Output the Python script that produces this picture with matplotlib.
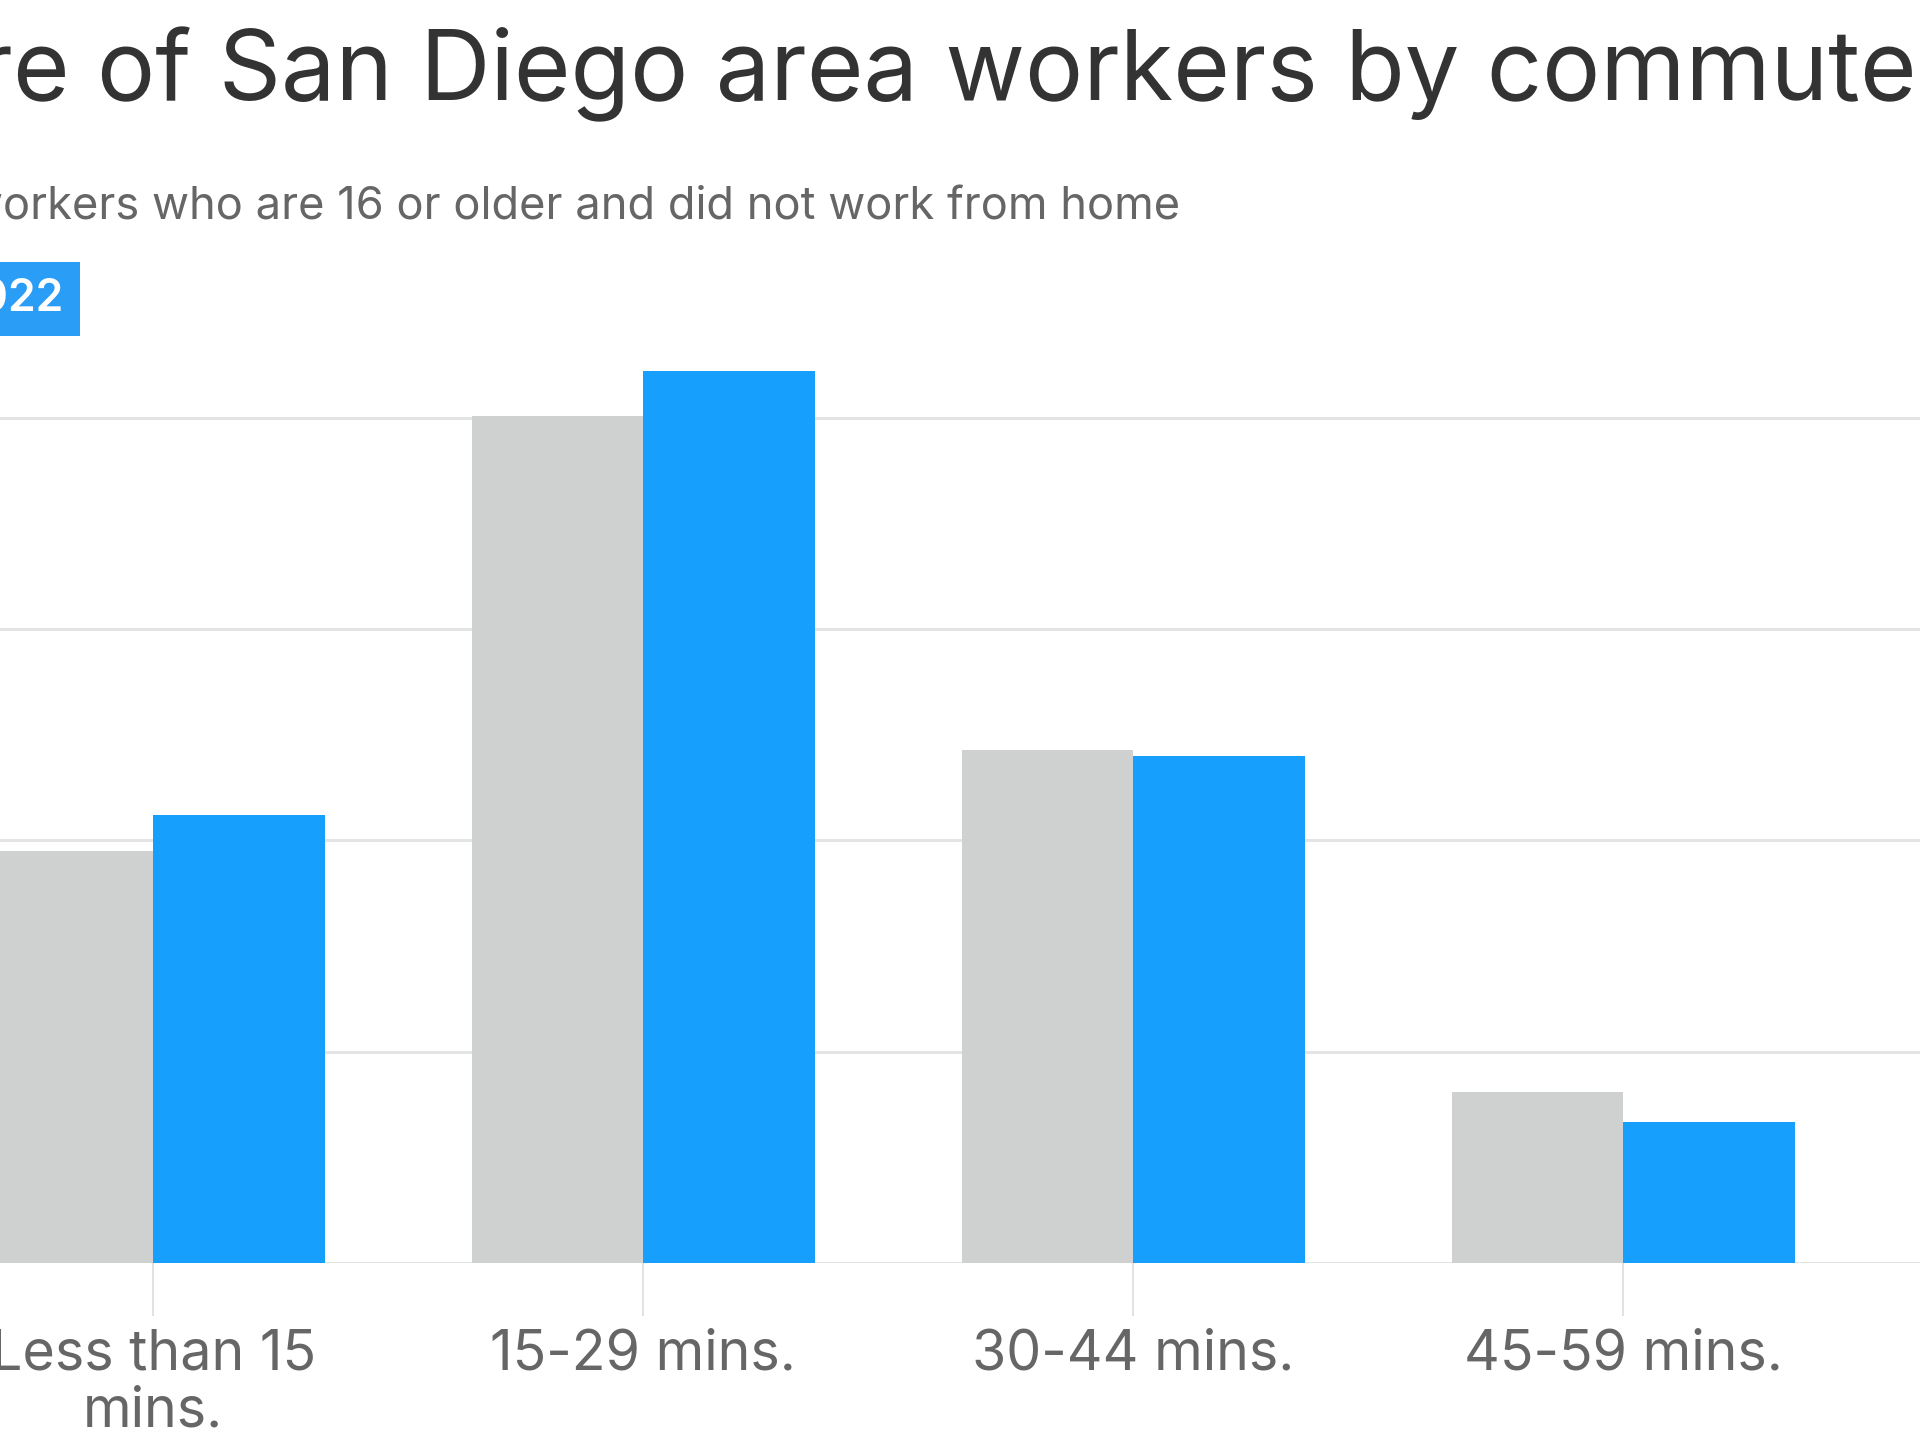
import matplotlib
matplotlib.use("Agg")
import matplotlib.pyplot as plt
import numpy as np

# ---- data ----
categories = ["Less than 15\nmins.", "15-29 mins.", "30-44 mins.", "45-59 mins."]
values_earlier = [19.5, 40.1, 24.3, 8.1]   # gray series (earlier year)
values_2022 = [21.2, 42.2, 24.0, 6.7]      # blue series
legend_label = "2022"
title_text = "Share of San Diego area workers by commute time"
subtitle_text = "workers who are 16 or older and did not work from home"

FONT = ["Inter", "DejaVu Sans"]
GRAY_BAR = "#CFD1D0"
BLUE = "#169FFD"
GRID = "#E4E4E4"
TEXT_DARK = "#333333"
TEXT_MID = "#666666"

W, H, DPI = 1920, 1440, 100
fig = plt.figure(figsize=(W / DPI, H / DPI), dpi=DPI)
fig.patch.set_facecolor("white")

# axes: baseline at y=1263 px, 21.14 px per unit; category spacing 490 px, first centre at 153 px
base_px = 1263.3
unit_px = 21.14
ymax = 45
top_px = base_px - ymax * unit_px
ax = fig.add_axes([0, (H - base_px) / H, 1, (base_px - top_px) / H])
x0_px = 153.3
step_px = 490.0
ax.set_xlim(-x0_px / step_px, (W - x0_px) / step_px)
ax.set_ylim(0, ymax)

x = np.arange(len(categories))
bw = 0.35
ax.bar(x - bw / 2, values_earlier, width=bw, color=GRAY_BAR, zorder=3, linewidth=0)
ax.bar(x + bw / 2, values_2022, width=bw, color=BLUE, zorder=3, linewidth=0)

ax.set_yticks([0, 10, 20, 30, 40])
ax.yaxis.grid(True, color=GRID, linewidth=2.2, zorder=0)
ax.set_axisbelow(True)
ax.tick_params(axis="y", left=False, labelleft=False)
for s in ax.spines.values():
    s.set_visible(False)

ax.set_xticks(x)
ax.set_xticklabels(categories, fontsize=40, color=TEXT_MID, family=FONT,
                   linespacing=1.12)
ax.tick_params(axis="x", length=38, width=1.2, color="#DDDDDD", pad=9)

renderer = fig.canvas.get_renderer()

def prefix_width(prefix, size, weight="normal"):
    t = fig.text(0, 0, prefix, fontsize=size, family=FONT, fontweight=weight)
    w = t.get_window_extent(renderer).width
    t.remove()
    return w

# title (left part cropped off, as in the reference)
tsize = 70
pw = prefix_width("Sha", tsize)
fig.text((-pw - 24) / W, 1 - 100 / H, title_text, fontsize=tsize, color=TEXT_DARK,
         family=FONT, ha="left", va="baseline")

ssize = 32.6
pw2 = prefix_width("w", ssize)
fig.text((3 - pw2) / W, 1 - 220 / H, subtitle_text, fontsize=ssize, color=TEXT_MID,
         family=FONT, ha="left", va="baseline")

# legend chip
fig.text(64 / W, 1 - 311 / H, legend_label, fontsize=32, color="white",
         family=FONT, fontweight="semibold", ha="right", va="baseline",
         bbox=dict(boxstyle="square,pad=0.36", facecolor="#2A9DF6", edgecolor="none"))

fig.savefig("out.png", dpi=DPI, facecolor="white")
